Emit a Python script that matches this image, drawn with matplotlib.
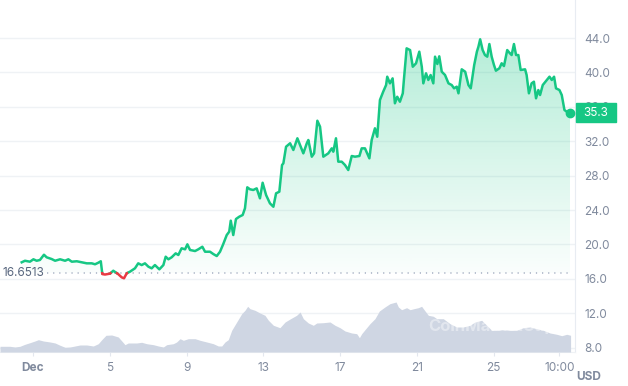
import numpy as np
import matplotlib.pyplot as plt
from matplotlib.colors import to_rgb
from matplotlib.patches import Rectangle
from matplotlib.transforms import blended_transform_factory

plt.rcParams['font.family'] = ['Inter', 'DejaVu Sans']

# price, days of December (fractional)
days = [0.41, 0.58, 0.84, 1.02, 1.19, 1.36, 1.57, 1.71, 1.97, 2.15,
        2.41, 2.67, 2.84, 3.02, 3.28, 3.54, 3.80, 4.06, 4.23, 4.40,
        4.53, 4.61, 4.75, 5.01, 5.18, 5.43, 5.62, 5.74, 5.88, 6.05,
        6.31, 6.48, 6.66, 6.83, 7.01, 7.18, 7.35, 7.58, 7.79, 7.91,
        8.05, 8.22, 8.43, 8.57, 8.74, 8.92, 9.04, 9.18, 9.44, 9.61,
        9.82, 9.96, 10.22, 10.39, 10.57, 10.74, 10.91, 11.09, 11.22, 11.30,
        11.43, 11.57, 11.74, 11.92, 12.04, 12.16, 12.30, 12.47, 12.65, 12.82,
        12.96, 13.14, 13.34, 13.52, 13.66, 13.83, 13.97, 14.04, 14.18, 14.39,
        14.56, 14.77, 14.91, 15.08, 15.26, 15.34, 15.52, 15.64, 15.81, 15.95,
        16.12, 16.38, 16.56, 16.64, 16.78, 16.90, 17.08, 17.25, 17.42, 17.60,
        17.77, 18.00, 18.12, 18.29, 18.52, 18.64, 18.81, 18.93, 19.07, 19.24,
        19.39, 19.45, 19.59, 19.73, 19.85, 19.97, 20.11, 20.26, 20.32, 20.46,
        20.64, 20.78, 20.95, 21.12, 21.25, 21.33, 21.47, 21.59, 21.71, 21.85,
        21.94, 22.06, 22.16, 22.29, 22.46, 22.64, 22.81, 22.93, 23.07, 23.16,
        23.33, 23.51, 23.68, 23.80, 23.98, 24.12, 24.20, 24.29, 24.42, 24.54,
        24.66, 24.77, 24.89, 25.01, 25.11, 25.29, 25.41, 25.53, 25.70, 25.84,
        25.93, 26.05, 26.16, 26.28, 26.40, 26.63, 26.71, 26.83, 26.97, 27.09,
        27.20, 27.32, 27.41, 27.55, 27.76, 27.90, 28.02, 28.14, 28.24, 28.42,
        28.54, 28.68, 28.80, 28.97]
price = [17.92, 18.10, 17.99, 18.27, 18.10, 18.19, 18.80, 18.50, 18.30, 18.10,
         18.27, 18.10, 18.27, 17.99, 18.04, 17.92, 17.80, 17.80, 17.69, 17.87,
         18.04, 16.55, 16.50, 16.60, 16.94, 16.56, 16.17, 16.06, 16.64, 16.83,
         17.22, 17.80, 17.60, 17.80, 17.41, 17.22, 17.60, 17.10, 17.60, 18.57,
         18.27, 18.50, 18.96, 18.77, 19.55, 19.43, 20.01, 19.35, 19.23, 19.43,
         19.73, 19.15, 19.15, 18.88, 18.65, 19.15, 20.05, 21.09, 21.48, 22.76,
         21.09, 22.95, 23.22, 23.42, 24.20, 26.64, 26.41, 26.33, 26.52, 25.36,
         27.17, 25.74, 24.78, 24.38, 25.94, 26.13, 29.23, 29.43, 31.36, 31.76,
         30.98, 32.34, 31.56, 30.59, 31.76, 32.14, 30.20, 30.59, 34.38, 33.69,
         30.20, 30.59, 31.17, 30.78, 32.34, 29.62, 29.62, 29.23, 28.65, 30.28,
         30.20, 30.28, 31.17, 31.17, 30.01, 32.14, 33.50, 32.52, 36.79, 37.76,
         38.53, 39.50, 38.73, 39.31, 36.41, 37.17, 36.59, 37.57, 39.20, 42.80,
         42.60, 40.66, 41.06, 42.41, 40.66, 38.73, 39.90, 39.12, 39.70, 38.73,
         41.83, 40.98, 41.87, 40.08, 39.70, 38.73, 38.53, 38.15, 38.34, 37.57,
         40.36, 40.08, 38.53, 38.15, 40.86, 42.41, 42.99, 43.85, 42.60, 42.02,
         41.83, 43.30, 41.83, 40.86, 40.20, 40.48, 41.06, 40.74, 42.60, 42.22,
         42.02, 43.30, 42.02, 42.02, 40.28, 40.36, 39.70, 37.57, 38.73, 38.92,
         36.99, 37.95, 37.37, 38.53, 39.12, 39.50, 39.12, 39.50, 38.15, 37.95,
         37.37, 35.63, 35.43, 35.30]

# volume (relative units)
vol_days = [-0.72, -0.20, 0.06, 0.32, 0.58, 0.84, 1.10, 1.28, 1.54, 1.89,
            2.15, 2.41, 2.67, 2.93, 3.19, 3.45, 3.80, 4.14, 4.40, 4.58,
            4.80, 5.10, 5.44, 5.67, 5.79, 5.96, 6.40, 6.66, 6.92, 7.27,
            7.53, 7.79, 7.96, 8.31, 8.48, 8.66, 8.83, 9.09, 9.44, 9.70,
            10.05, 10.39, 10.65, 10.83, 11.00, 11.17, 11.35, 11.61, 11.87, 12.04,
            12.18, 12.30, 12.56, 12.82, 13.08, 13.26, 13.52, 13.86, 14.13, 14.39,
            14.73, 14.91, 15.08, 15.34, 15.60, 15.78, 16.12, 16.47, 16.73, 16.99,
            17.25, 17.60, 17.86, 18.00, 18.12, 18.29, 18.55, 18.81, 19.04, 19.33,
            19.59, 19.91, 20.03, 20.20, 20.46, 20.64, 20.84, 21.07, 21.24, 21.42,
            21.59, 21.85, 22.03, 22.37, 22.72, 23.07, 23.41, 23.76, 24.02, 24.37,
            24.63, 24.89, 25.15, 25.49, 25.84, 26.19, 26.54, 26.88, 27.23, 27.58,
            27.93, 28.28, 28.54, 28.80, 29.00]
volume = [5.7, 5.7, 5.0, 5.7, 7.7, 9.3, 11.0, 12.3, 11.0, 10.0,
          9.0, 6.7, 4.7, 5.0, 6.0, 7.0, 7.0, 6.0, 8.3, 12.3,
          16.7, 17.0, 15.0, 10.0, 7.3, 9.0, 9.0, 9.7, 8.3, 7.3,
          6.0, 5.0, 7.3, 8.3, 10.0, 13.3, 11.7, 13.3, 13.3, 11.7,
          10.0, 8.3, 6.0, 6.0, 10.0, 12.3, 21.7, 30.0, 38.3, 41.7,
          45.7, 43.3, 41.7, 39.0, 36.7, 31.7, 26.7, 24.3, 30.0, 33.0,
          36.7, 40.0, 33.3, 29.0, 26.7, 29.0, 29.3, 30.0, 26.7, 24.3,
          21.0, 19.0, 18.3, 14.3, 18.3, 22.3, 28.3, 33.3, 41.0, 45.0,
          48.3, 50.0, 45.0, 42.3, 44.3, 42.3, 43.3, 44.3, 45.7, 41.0,
          36.7, 35.7, 33.3, 33.3, 28.3, 25.0, 25.0, 26.7, 30.0, 31.7,
          26.7, 21.7, 21.7, 22.3, 21.7, 21.7, 24.3, 25.0, 23.3, 21.7,
          19.0, 17.7, 16.3, 17.7, 16.7]

base_price = 16.6513
price_ticks = [8, 12, 16, 20, 24, 28, 32, 36, 40, 44]
tick_days = [1, 5, 9, 13, 17, 21, 25, 28 + 10 / 24]
tick_labels = ['Dec', '5', '9', '13', '17', '21', '25', '10:00']

green = '#16c784'
red = '#ea3943'
grey = '#808a9d'
gridc = '#eff2f5'

fig = plt.figure(figsize=(6.28, 3.86), dpi=100)
ax = fig.add_axes([0, 34 / 386, 575 / 628, 352 / 386])
ax2 = ax.twinx()
xlim = (-0.72, 29.23)
ylim = (7.49, 48.42)

# insert baseline crossings so the colour switches exactly at the baseline
t = np.array(days)
p = np.array(price)
tt, pp = [t[0]], [p[0]]
for i in range(1, len(t)):
    a, b = p[i - 1] - base_price, p[i] - base_price
    if a * b < 0:
        f = a / (a - b)
        tt.append(t[i - 1] + f * (t[i] - t[i - 1]))
        pp.append(base_price)
    tt.append(t[i])
    pp.append(p[i])
tt, pp = np.array(tt), np.array(pp)

for yv in price_ticks:
    ax.axhline(yv, color=gridc, lw=1, zorder=0.5)

# gradient fill under the line
poly = ax.fill_between(tt, np.maximum(pp, base_price), base_price,
                       facecolor='none', edgecolor='none')
grad = np.zeros((256, 1, 4))
grad[..., :3] = to_rgb(green)
grad[..., 3] = np.linspace(0.02, 0.32, 256)[:, None]
im = ax.imshow(grad, extent=[tt[0], tt[-1], base_price, 44], origin='lower',
               aspect='auto', zorder=1, interpolation='bilinear')
im.set_clip_path(poly.get_paths()[0], transform=ax.transData)

up = np.ma.masked_where(pp < base_price, pp)
dn = np.ma.masked_where(pp > base_price, pp)
ax.plot(tt, up, color=green, lw=1.8, zorder=3, solid_joinstyle='round')
ax.plot(tt, dn, color=red, lw=1.8, zorder=3, solid_joinstyle='round')
ax.plot(t[-1], p[-1], 'o', ms=6, color=green, zorder=4, clip_on=False)

# baseline
xend = (t[-1] - xlim[0]) / (xlim[1] - xlim[0])
ax.axhline(base_price, xmin=0.082, xmax=xend, color='#a6b0c3', lw=1.1,
           linestyle=(0, (0.8, 3.2)), zorder=2)
bt = blended_transform_factory(ax.transAxes, ax.transData)
ax.text(0.004, base_price, f'{base_price:.4f}', transform=bt, ha='left',
        va='center', fontsize=8.5, color='#58667e', zorder=5)

ax.set_xlim(xlim)
ax.set_ylim(ylim)
ax.set_yticks(price_ticks)
ax.set_yticklabels([f'{v:.1f}' for v in price_ticks])
ax.yaxis.tick_right()
ax.set_xticks(tick_days)
ax.set_xticklabels(tick_labels)
ax.get_xticklabels()[0].set_fontweight('bold')
ax.tick_params(axis='y', length=0, pad=6.5, labelsize=8.5, labelcolor=grey)
ax.tick_params(axis='x', length=3, width=0.8, color='#e3e7ee', pad=4,
               labelsize=8.5, labelcolor=grey)
for s in ['top', 'left']:
    ax.spines[s].set_visible(False)
ax.spines['right'].set_color('#e8ecf2')
ax.spines['bottom'].set_color(gridc)

# last price tag
w, h = 40 / 575, 19 / 8.6
ax.add_patch(Rectangle((1.001, p[-1] - h / 2), w, h, transform=bt,
                       color=green, clip_on=False, zorder=10))
ax.text(1.001 + w / 2, p[-1], f'{p[-1]:.1f}', transform=bt, ha='center',
        va='center', color='white', fontsize=8.5, zorder=11)

# volume
ax2.fill_between(vol_days, volume, 0, color='#cfd6e3', lw=0, zorder=1)
ax2.set_ylim(0, 352)
ax2.set_xlim(xlim)
ax2.set_axis_off()
ax2.text(0.855, 0.074, 'CoinMarketCap', transform=ax2.transAxes,
         ha='center', va='center', fontsize=12, fontweight='bold',
         color='white', alpha=0.4, zorder=5)

fig.text(589 / 628, 1 - 377 / 386, 'USD', ha='center', va='center',
         fontsize=8.5, fontweight='bold', color=grey)

fig.savefig('out.png', dpi=100)
